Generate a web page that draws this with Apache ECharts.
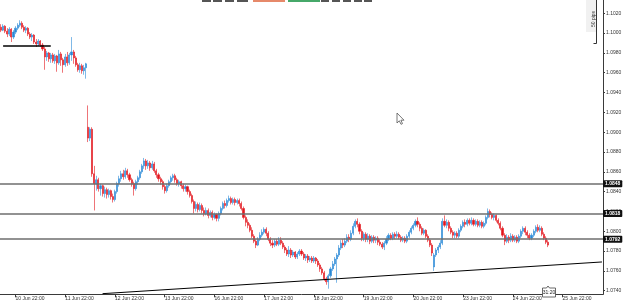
<!DOCTYPE html>
<html><head><meta charset="utf-8">
<script src="https://cdn.jsdelivr.net/npm/echarts@6/dist/echarts.min.js"></script>
<style>html,body{margin:0;padding:0;background:#fff}#c{width:625px;height:303px}</style>
</head><body><div id="c"></div>
<script>
// ---- data ----
const tradingDays = ['10 Jun','11 Jun','12 Jun','13 Jun','16 Jun','17 Jun','18 Jun','19 Jun','20 Jun','23 Jun','24 Jun','25 Jun','26 Jun'];
const firstHour = 15;
const slotCount = 291;
const xTickLabels = ['10 Jun 22:00','11 Jun 22:00','12 Jun 22:00','13 Jun 22:00','16 Jun 22:00','17 Jun 22:00','18 Jun 22:00','19 Jun 22:00','20 Jun 22:00','23 Jun 22:00','24 Jun 22:00','25 Jun 22:00'];
const priceMin = 1.073636, priceMax = 1.103342;
const levels = [1.0848, 1.0818, 1.0792];
const shortLevel = {from: 1, to: 24, price: 1.0987};
const trendLine = [[49, 1.0737], [290, 1.0769]];
const timerText = '31:20';
const rangeText = '50 pips';
// [open, close, low, high]
const candles = [
[1.1006,1.1003,1.1001,1.1009],[1.1003,1.1007,1.1002,1.1009],[1.1007,1.1002,1.1000,1.1008],[1.1002,1.0999,1.0996,1.1005],
[1.0999,1.1004,1.0997,1.1006],[1.1004,1.0996,1.0991,1.1005],[1.0996,1.1001,1.0994,1.1003],[1.1001,1.1005,1.0999,1.1007],
[1.1005,1.1008,1.1003,1.1010],[1.1008,1.1010,1.1006,1.1013],[1.1010,1.1006,1.1004,1.1012],[1.1006,1.1003,1.1001,1.1008],
[1.1003,1.1005,1.1000,1.1007],[1.1005,1.0999,1.0997,1.1006],[1.0999,1.0996,1.0994,1.1001],[1.0996,1.0998,1.0992,1.1000],
[1.0998,1.0991,1.0989,1.0999],[1.0991,1.0989,1.0986,1.0994],[1.0989,1.0992,1.0987,1.0994],[1.0992,1.0988,1.0986,1.0993],
[1.0988,1.0984,1.0982,1.0990],[1.0984,1.0976,1.0963,1.0986],[1.0976,1.0980,1.0972,1.0982],[1.0980,1.0974,1.0971,1.0981],
[1.0974,1.0978,1.0970,1.0980],[1.0978,1.0972,1.0970,1.0980],[1.0972,1.0977,1.0969,1.0979],[1.0977,1.0970,1.0961,1.0978],
[1.0970,1.0979,1.0968,1.0983],[1.0979,1.0973,1.0967,1.0981],[1.0973,1.0968,1.0960,1.0975],[1.0968,1.0976,1.0966,1.0979],
[1.0976,1.0970,1.0967,1.0981],[1.0970,1.0978,1.0968,1.0980],[1.0978,1.0981,1.0972,1.0996],[1.0981,1.0975,1.0969,1.0983],
[1.0975,1.0968,1.0966,1.0977],[1.0968,1.0963,1.0961,1.0970],[1.0963,1.0967,1.0960,1.0970],[1.0967,1.0962,1.0959,1.0969],
[1.0962,1.0965,1.0958,1.0968],[1.0965,1.0969,1.0954,1.0970],
[1.0905,1.0894,1.0890,1.0927],[1.0894,1.0903,1.0891,1.0905],[1.0903,1.0858,1.0855,1.0905],[1.0858,1.0848,1.0821,1.0866],
[1.0848,1.0852,1.0841,1.0856],[1.0852,1.0843,1.0840,1.0854],[1.0843,1.0846,1.0836,1.0848],[1.0846,1.0838,1.0835,1.0847],
[1.0838,1.0842,1.0834,1.0845],[1.0842,1.0837,1.0833,1.0844],[1.0837,1.0841,1.0834,1.0843],[1.0841,1.0835,1.0832,1.0842],
[1.0835,1.0832,1.0829,1.0838],[1.0832,1.0840,1.0830,1.0842],[1.0840,1.0848,1.0838,1.0850],[1.0848,1.0853,1.0845,1.0856],
[1.0853,1.0858,1.0850,1.0861],[1.0858,1.0855,1.0852,1.0862],[1.0855,1.0861,1.0853,1.0864],[1.0861,1.0857,1.0854,1.0863],
[1.0857,1.0852,1.0850,1.0859],[1.0852,1.0848,1.0845,1.0854],[1.0848,1.0843,1.0836,1.0850],[1.0843,1.0850,1.0841,1.0852],
[1.0850,1.0854,1.0847,1.0856],[1.0854,1.0860,1.0852,1.0862],[1.0860,1.0866,1.0858,1.0868],[1.0866,1.0871,1.0863,1.0874],
[1.0871,1.0866,1.0862,1.0873],[1.0866,1.0869,1.0863,1.0872],[1.0869,1.0864,1.0861,1.0871],[1.0864,1.0868,1.0862,1.0871],
[1.0868,1.0861,1.0859,1.0870],[1.0861,1.0857,1.0854,1.0863],[1.0857,1.0853,1.0850,1.0859],[1.0853,1.0850,1.0847,1.0855],
[1.0850,1.0845,1.0842,1.0852],[1.0845,1.0841,1.0838,1.0847],[1.0841,1.0846,1.0839,1.0848],[1.0846,1.0850,1.0844,1.0852],
[1.0850,1.0854,1.0848,1.0856],[1.0854,1.0856,1.0851,1.0858],[1.0856,1.0852,1.0849,1.0858],[1.0852,1.0848,1.0846,1.0854],
[1.0848,1.0850,1.0845,1.0852],[1.0850,1.0846,1.0843,1.0851],[1.0846,1.0843,1.0840,1.0848],[1.0843,1.0845,1.0840,1.0847],
[1.0845,1.0840,1.0837,1.0846],[1.0840,1.0836,1.0834,1.0842],[1.0836,1.0830,1.0828,1.0838],[1.0830,1.0823,1.0818,1.0832],
[1.0823,1.0827,1.0820,1.0830],[1.0827,1.0822,1.0819,1.0829],[1.0822,1.0826,1.0820,1.0829],[1.0826,1.0821,1.0818,1.0828],
[1.0821,1.0818,1.0815,1.0824],[1.0818,1.0821,1.0816,1.0824],[1.0821,1.0816,1.0813,1.0823],[1.0816,1.0819,1.0814,1.0821],
[1.0819,1.0814,1.0811,1.0821],[1.0814,1.0817,1.0812,1.0819],[1.0817,1.0813,1.0810,1.0818],[1.0813,1.0818,1.0810,1.0820],
[1.0818,1.0823,1.0816,1.0825],[1.0823,1.0828,1.0821,1.0830],[1.0828,1.0826,1.0823,1.0831],[1.0826,1.0831,1.0824,1.0833],
[1.0831,1.0833,1.0829,1.0836],[1.0833,1.0829,1.0827,1.0835],[1.0829,1.0832,1.0827,1.0834],[1.0832,1.0829,1.0826,1.0834],
[1.0829,1.0831,1.0827,1.0833],[1.0831,1.0828,1.0825,1.0833],[1.0828,1.0823,1.0821,1.0830],[1.0823,1.0814,1.0812,1.0825],
[1.0814,1.0809,1.0805,1.0816],[1.0809,1.0806,1.0803,1.0812],[1.0806,1.0801,1.0799,1.0808],[1.0801,1.0795,1.0793,1.0804],
[1.0795,1.0790,1.0788,1.0797],[1.0790,1.0786,1.0783,1.0792],[1.0786,1.0792,1.0785,1.0794],[1.0792,1.0796,1.0790,1.0799],
[1.0796,1.0799,1.0794,1.0802],[1.0799,1.0802,1.0797,1.0804],[1.0802,1.0798,1.0795,1.0804],[1.0798,1.0792,1.0790,1.0800],
[1.0792,1.0788,1.0785,1.0794],[1.0788,1.0786,1.0783,1.0791],[1.0786,1.0790,1.0784,1.0792],[1.0790,1.0787,1.0785,1.0792],
[1.0787,1.0791,1.0785,1.0794],[1.0791,1.0788,1.0786,1.0794],[1.0788,1.0784,1.0782,1.0790],[1.0784,1.0781,1.0778,1.0786],
[1.0781,1.0777,1.0775,1.0783],[1.0777,1.0781,1.0774,1.0785],[1.0781,1.0776,1.0773,1.0783],[1.0776,1.0779,1.0774,1.0781],
[1.0779,1.0774,1.0772,1.0780],[1.0774,1.0777,1.0772,1.0779],[1.0777,1.0780,1.0775,1.0782],[1.0780,1.0777,1.0775,1.0782],
[1.0777,1.0773,1.0771,1.0779],[1.0773,1.0775,1.0770,1.0777],[1.0775,1.0771,1.0768,1.0777],[1.0771,1.0773,1.0769,1.0775],
[1.0773,1.0770,1.0768,1.0775],[1.0770,1.0773,1.0768,1.0775],[1.0773,1.0770,1.0767,1.0774],[1.0770,1.0766,1.0764,1.0772],
[1.0766,1.0762,1.0759,1.0768],[1.0762,1.0758,1.0756,1.0764],[1.0758,1.0752,1.0750,1.0760],[1.0752,1.0749,1.0746,1.0754],
[1.0749,1.0755,1.0742,1.0757],[1.0755,1.0762,1.0753,1.0764],[1.0762,1.0767,1.0760,1.0770],[1.0767,1.0772,1.0765,1.0774],
[1.0772,1.0776,1.0748,1.0778],[1.0776,1.0783,1.0774,1.0786],[1.0783,1.0788,1.0781,1.0791],[1.0788,1.0786,1.0783,1.0792],
[1.0786,1.0790,1.0784,1.0793],[1.0790,1.0794,1.0788,1.0797],[1.0794,1.0792,1.0789,1.0797],[1.0792,1.0798,1.0790,1.0801],
[1.0798,1.0805,1.0796,1.0808],[1.0805,1.0810,1.0803,1.0812],[1.0810,1.0807,1.0804,1.0813],[1.0807,1.0800,1.0797,1.0809],
[1.0800,1.0793,1.0790,1.0802],[1.0793,1.0797,1.0790,1.0799],[1.0797,1.0792,1.0789,1.0799],[1.0792,1.0795,1.0789,1.0798],
[1.0795,1.0790,1.0787,1.0797],[1.0790,1.0794,1.0788,1.0796],[1.0794,1.0791,1.0788,1.0796],[1.0791,1.0793,1.0788,1.0795],
[1.0793,1.0789,1.0786,1.0795],[1.0789,1.0787,1.0785,1.0792],[1.0787,1.0784,1.0782,1.0789],[1.0784,1.0788,1.0781,1.0790],
[1.0788,1.0792,1.0786,1.0795],[1.0792,1.0796,1.0790,1.0798],[1.0796,1.0793,1.0791,1.0798],[1.0793,1.0797,1.0791,1.0799],
[1.0797,1.0795,1.0792,1.0799],[1.0795,1.0797,1.0793,1.0800],[1.0797,1.0794,1.0792,1.0799],[1.0794,1.0791,1.0789,1.0796],
[1.0791,1.0793,1.0789,1.0795],[1.0793,1.0790,1.0788,1.0795],[1.0790,1.0795,1.0788,1.0797],[1.0795,1.0799,1.0793,1.0801],
[1.0799,1.0803,1.0797,1.0805],[1.0803,1.0806,1.0801,1.0808],[1.0806,1.0810,1.0804,1.0812],[1.0810,1.0807,1.0804,1.0814],
[1.0807,1.0803,1.0800,1.0809],[1.0803,1.0798,1.0796,1.0805],[1.0798,1.0801,1.0796,1.0803],[1.0801,1.0795,1.0793,1.0802],
[1.0795,1.0791,1.0789,1.0797],[1.0791,1.0786,1.0784,1.0793],[1.0786,1.0778,1.0775,1.0788],[1.0764,1.0776,1.0760,1.0778],
[1.0776,1.0781,1.0774,1.0783],[1.0781,1.0784,1.0778,1.0786],[1.0784,1.0788,1.0782,1.0791],[1.0788,1.0810,1.0786,1.0813],
[1.0810,1.0806,1.0804,1.0816],[1.0806,1.0809,1.0803,1.0812],[1.0809,1.0803,1.0800,1.0811],[1.0803,1.0799,1.0797,1.0805],
[1.0799,1.0796,1.0793,1.0801],[1.0796,1.0798,1.0793,1.0800],[1.0798,1.0795,1.0793,1.0800],[1.0795,1.0801,1.0793,1.0803],
[1.0801,1.0805,1.0799,1.0807],[1.0805,1.0809,1.0803,1.0811],[1.0809,1.0807,1.0804,1.0812],[1.0807,1.0811,1.0805,1.0813],
[1.0811,1.0808,1.0806,1.0813],[1.0808,1.0811,1.0806,1.0814],[1.0811,1.0807,1.0805,1.0813],[1.0807,1.0810,1.0805,1.0812],
[1.0810,1.0806,1.0804,1.0812],[1.0806,1.0809,1.0804,1.0811],[1.0809,1.0805,1.0803,1.0811],[1.0805,1.0808,1.0803,1.0810],
[1.0808,1.0814,1.0806,1.0816],[1.0814,1.0820,1.0812,1.0823],[1.0820,1.0817,1.0814,1.0822],[1.0817,1.0814,1.0812,1.0819],
[1.0814,1.0816,1.0811,1.0818],[1.0816,1.0811,1.0809,1.0817],[1.0811,1.0808,1.0806,1.0813],[1.0808,1.0803,1.0801,1.0810],
[1.0803,1.0796,1.0794,1.0805],[1.0796,1.0790,1.0786,1.0798],[1.0790,1.0794,1.0788,1.0797],[1.0794,1.0791,1.0788,1.0796],
[1.0791,1.0795,1.0789,1.0798],[1.0795,1.0791,1.0789,1.0797],[1.0791,1.0794,1.0789,1.0796],[1.0794,1.0790,1.0788,1.0796],
[1.0790,1.0795,1.0788,1.0797],[1.0795,1.0800,1.0793,1.0802],[1.0800,1.0803,1.0797,1.0805],[1.0803,1.0799,1.0796,1.0805],
[1.0799,1.0796,1.0793,1.0801],[1.0796,1.0793,1.0791,1.0798],[1.0793,1.0796,1.0791,1.0798],[1.0796,1.0800,1.0794,1.0802],
[1.0800,1.0804,1.0798,1.0806],[1.0804,1.0801,1.0799,1.0807],[1.0801,1.0803,1.0799,1.0806],[1.0803,1.0797,1.0795,1.0805],
[1.0797,1.0793,1.0791,1.0799],[1.0793,1.0789,1.0787,1.0795],[1.0789,1.0786,1.0784,1.0791]
];

// ---- categories (hourly slots, weekends skipped) ----
const categories = [];
(function(){ let d = 0, h = firstHour;
  while (categories.length < slotCount) {
    categories.push(tradingDays[d] + ' ' + String(h).padStart(2,'0') + ':00');
    h++; if (h === 24) { h = 0; d++; }
  }
})();
const isTick = (i, v) => xTickLabels.indexOf(v) >= 0;

const FONT = 'Liberation Sans';
const chart = echarts.init(document.getElementById('c'), null, {renderer: 'canvas'});
const levelMarks = levels.map(v => ({
  yAxis: v,
  lineStyle: {color: '#6e6e6e', width: 1.5, type: 'solid'},
  label: {show: true, position: 'end', distance: 0, formatter: () => v.toFixed(4),
    color: '#fff', backgroundColor: '#111', padding: [1, 2, 1, 2], borderRadius: 1,
    fontSize: 5, fontWeight: 'bold', fontFamily: FONT}
}));
chart.setOption({
  animation: false,
  backgroundColor: '#ffffff',
  grid: {left: 0, right: 22, top: 0, bottom: 8.7, outerBoundsMode: 'none', containLabel: false},
  xAxis: {
    type: 'category', data: categories, boundaryGap: true,
    axisLine: {show: true, lineStyle: {color: '#3a3a3a', width: 1}},
    axisTick: {show: true, alignWithLabel: true, interval: isTick, length: 3, lineStyle: {color: '#3a3a3a'}},
    axisLabel: {show: true, interval: isTick, align: 'left', margin: 2, fontSize: 5, color: '#333', fontFamily: FONT, hideOverlap: false},
    splitLine: {show: false}
  },
  yAxis: {
    type: 'value', position: 'right', min: priceMin, max: priceMax, splitNumber: 15, scale: true,
    axisLine: {show: true, lineStyle: {color: '#3a3a3a', width: 1}},
    axisTick: {show: true, length: 2, lineStyle: {color: '#3a3a3a'}},
    axisLabel: {show: true, margin: 3, fontSize: 5, color: '#333', fontFamily: FONT,
      showMinLabel: false, showMaxLabel: false, formatter: v => v.toFixed(4)},
    splitLine: {show: false}
  },
  series: [{
    type: 'candlestick',
    data: candles,
    barWidth: 1.6,
    itemStyle: {color: '#2a8ad6', color0: '#e3151c', borderColor: '#2a8ad6', borderColor0: '#e3151c', borderWidth: 0.6},
    markLine: {
      silent: true, symbol: 'none', animation: false, precision: 6,
      label: {show: false},
      data: levelMarks.concat([
        [{coord: [shortLevel.from, shortLevel.price], lineStyle: {color: '#000', width: 1.5, type: 'solid'}, label: {show: false}},
         {coord: [shortLevel.to, shortLevel.price]}],
        [{coord: trendLine[0], lineStyle: {color: '#000', width: 1, type: 'solid'}, label: {show: false}},
         {coord: trendLine[1]}]
      ])
    }
  }],
  graphic: [
    {type: 'rect', shape: {x: 202, y: 0, width: 9, height: 2}, style: {fill: '#555'}},
    {type: 'rect', shape: {x: 213, y: 0, width: 9, height: 2}, style: {fill: '#555'}},
    {type: 'rect', shape: {x: 225, y: 0, width: 9, height: 2}, style: {fill: '#555'}},
    {type: 'rect', shape: {x: 237, y: 0, width: 11, height: 2}, style: {fill: '#555'}},
    {type: 'rect', shape: {x: 253, y: 0, width: 32, height: 2}, style: {fill: '#e6896a'}},
    {type: 'rect', shape: {x: 288, y: 0, width: 32, height: 2}, style: {fill: '#46a869'}},
    {type: 'rect', shape: {x: 321, y: 0, width: 8, height: 2}, style: {fill: '#555'}},
    {type: 'rect', shape: {x: 332, y: 0, width: 8, height: 2}, style: {fill: '#555'}},
    {type: 'rect', shape: {x: 343, y: 0, width: 8, height: 2}, style: {fill: '#555'}},
    {type: 'rect', shape: {x: 354, y: 0, width: 8, height: 2}, style: {fill: '#555'}},
    {type: 'rect', shape: {x: 364, y: 0, width: 8, height: 2}, style: {fill: '#555'}},
    {type: 'rect', shape: {x: 586, y: 0, width: 11, height: 32}, style: {fill: '#f1f1f1'}},
    {type: 'text', x: 593.5, y: 19, rotation: Math.PI / 2,
      style: {text: rangeText, fontSize: 5, fill: '#333', fontFamily: FONT, align: 'center', verticalAlign: 'middle'}},
    {type: 'polyline', shape: {points: [[596.5, 0], [596.5, 43.5], [593.5, 43.5]]}, style: {stroke: '#333', lineWidth: 1, fill: null}},
    {type: 'polygon', shape: {points: [[397, 113], [397, 123], [399.3, 120.8], [401, 124.3], [402.5, 123.6], [400.9, 120.2], [404, 120.2]]},
      style: {fill: '#fff', stroke: '#555', lineWidth: 0.8}},
    {type: 'polygon', shape: {points: [[542.5, 288], [546.5, 288], [548, 286], [549.5, 288], [555.5, 288], [555.5, 297], [542.5, 297]]},
      style: {fill: '#fff', stroke: '#444', lineWidth: 0.8}, z: 50},
    {type: 'text', x: 549, y: 292.7, z: 51,
      style: {text: timerText, fontSize: 5, fill: '#222', fontFamily: FONT, align: 'center', verticalAlign: 'middle'}}
  ]
});
</script></body></html>
